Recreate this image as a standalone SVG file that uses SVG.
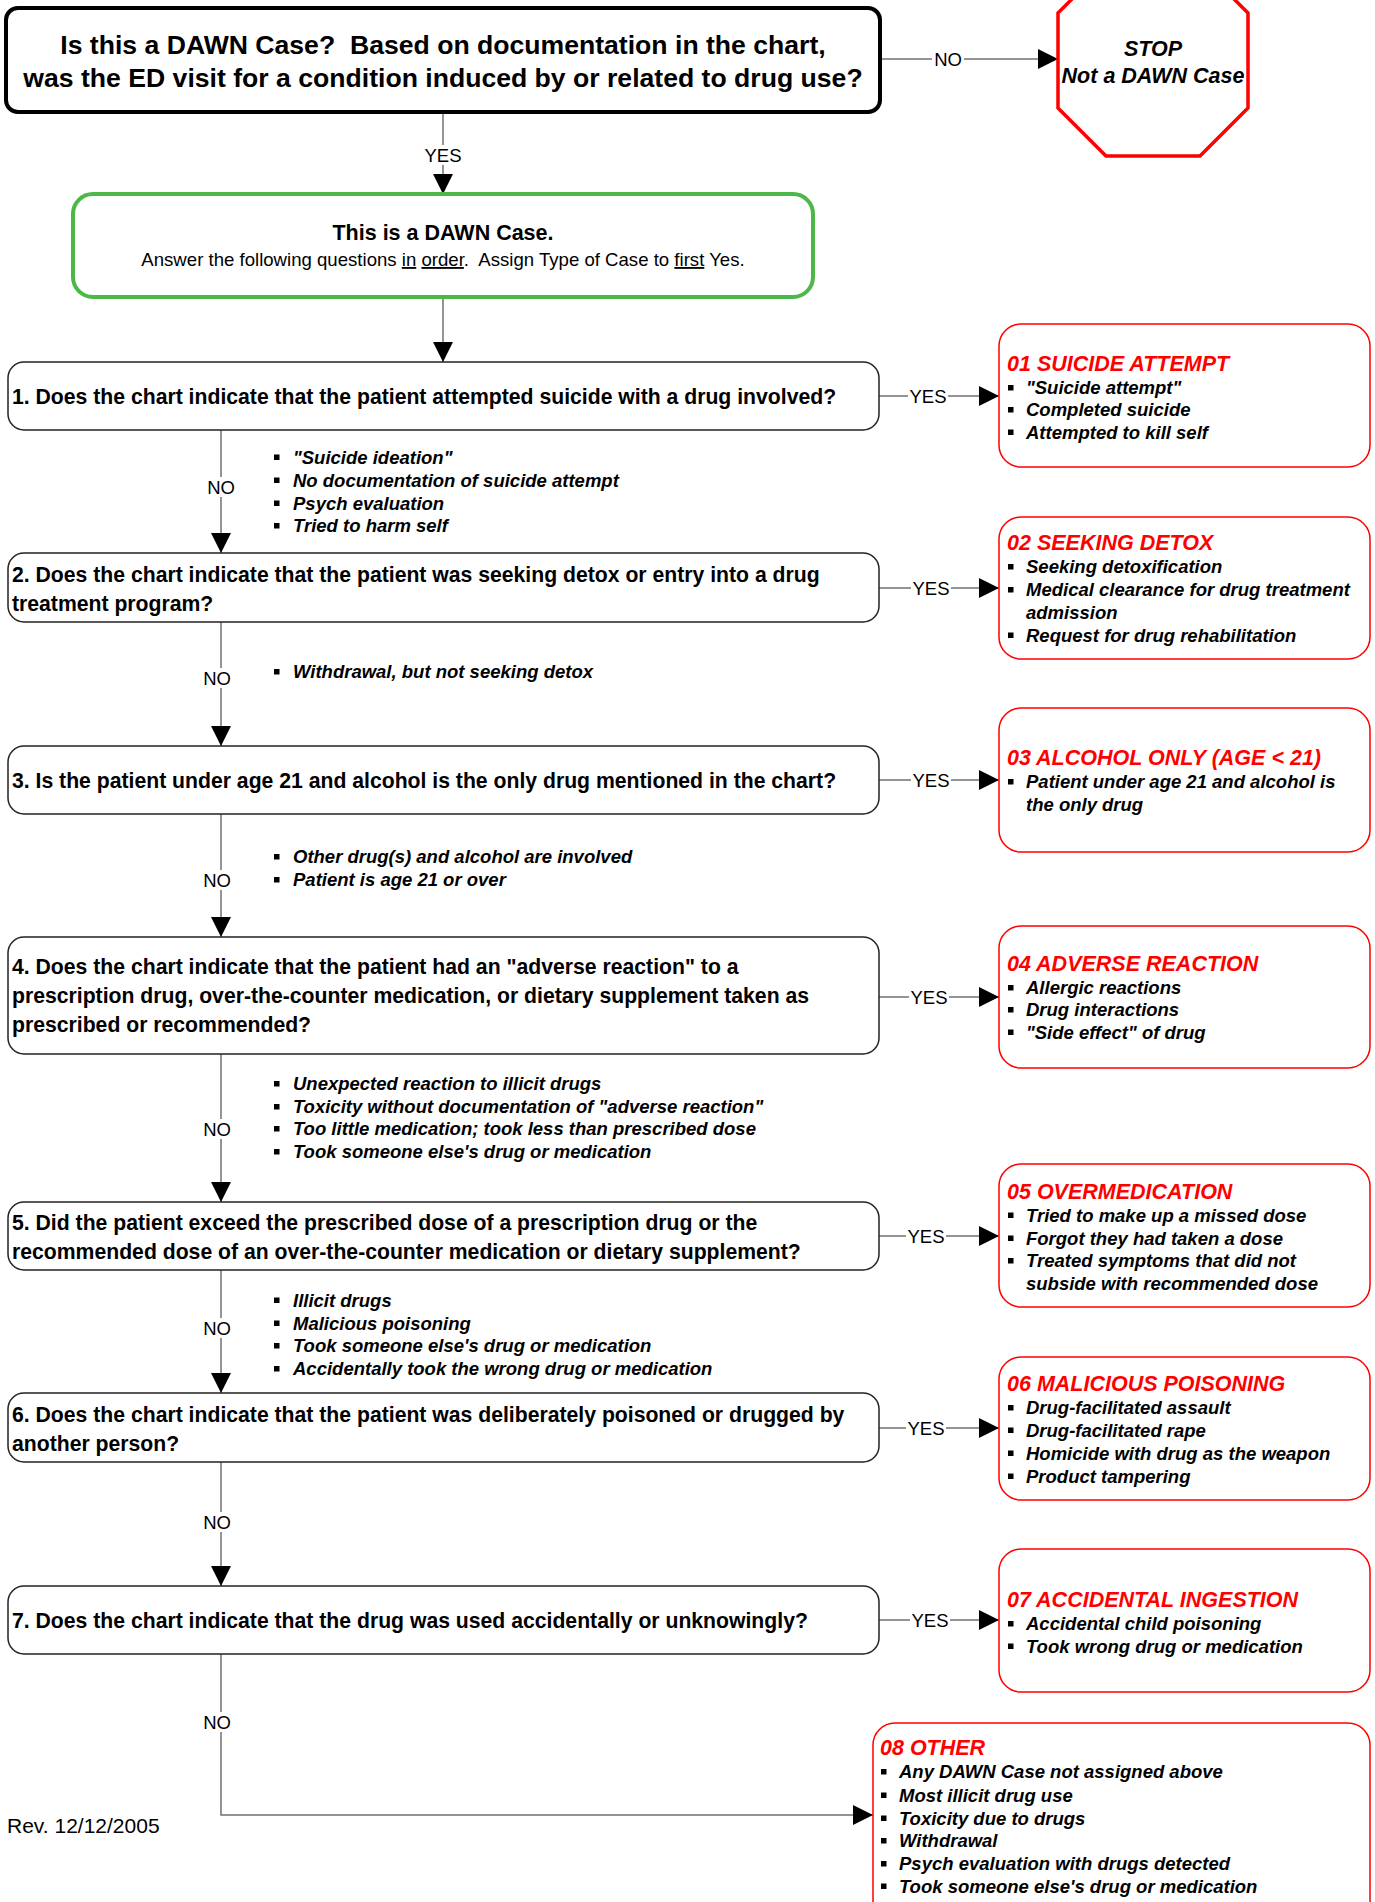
<svg xmlns="http://www.w3.org/2000/svg" width="1375" height="1902" viewBox="0 0 1375 1902">
<style>
text{font-family:"Liberation Sans",Arial,sans-serif;fill:#000;white-space:pre}
.top{font-size:26.6px;font-weight:bold}
.q{font-size:21.2px;font-weight:bold}
.qb{fill:#fff;stroke:#222;stroke-width:1.5}
.rb{fill:#fff;stroke:#f00;stroke-width:1.5}
.tt{font-size:21.5px;font-weight:bold;font-style:italic;fill:#f00}
.it{font-size:18.5px;font-weight:bold;font-style:italic}
.lb{font-size:18.5px;text-anchor:middle}
.bg{fill:#fff}
.c{fill:none;stroke:#707070;stroke-width:1.5}
.b{fill:#000}
.st{font-size:21.5px;font-weight:bold;font-style:italic;text-anchor:middle}
</style>
<defs>
<marker id="ah" viewBox="0 0 20 20" refX="20" refY="10" markerWidth="20" markerHeight="20" markerUnits="userSpaceOnUse" orient="auto"><path d="M0,0L20,10L0,20z" fill="#000"/></marker>
<rect id="bl" width="5.5" height="5.5" class="b"/>
</defs>
<rect width="1375" height="1902" fill="#fff"/>

<g id="connectors">
<path class="c" d="M880,59H1058" marker-end="url(#ah)"/>
<path class="c" d="M443,112V194" marker-end="url(#ah)"/>
<path class="c" d="M443,297V362" marker-end="url(#ah)"/>
<path class="c" d="M221,430V553" marker-end="url(#ah)"/>
<path class="c" d="M221,622V746" marker-end="url(#ah)"/>
<path class="c" d="M221,814V937" marker-end="url(#ah)"/>
<path class="c" d="M221,1054V1202" marker-end="url(#ah)"/>
<path class="c" d="M221,1270V1393" marker-end="url(#ah)"/>
<path class="c" d="M221,1462V1586" marker-end="url(#ah)"/>
<path class="c" d="M221,1654V1815H873" marker-end="url(#ah)"/>
<path class="c" d="M879,396H999" marker-end="url(#ah)"/>
<path class="c" d="M879,588H999" marker-end="url(#ah)"/>
<path class="c" d="M879,780H999" marker-end="url(#ah)"/>
<path class="c" d="M879,997H999" marker-end="url(#ah)"/>
<path class="c" d="M879,1236H999" marker-end="url(#ah)"/>
<path class="c" d="M879,1428H999" marker-end="url(#ah)"/>
<path class="c" d="M879,1620H999" marker-end="url(#ah)"/>
<g id="labels">
<rect class="bg" x="932" y="49" width="32" height="20"/><text class="lb" x="948" y="65.5">NO</text>
<rect class="bg" x="423" y="145" width="40" height="20"/><text class="lb" x="443" y="161.5">YES</text>
<rect class="bg" x="205" y="477" width="32" height="20"/><text class="lb" x="221" y="493.5">NO</text>
<rect class="bg" x="201" y="668" width="32" height="20"/><text class="lb" x="217" y="684.5">NO</text>
<rect class="bg" x="201" y="870" width="32" height="20"/><text class="lb" x="217" y="886.5">NO</text>
<rect class="bg" x="201" y="1119" width="32" height="20"/><text class="lb" x="217" y="1135.5">NO</text>
<rect class="bg" x="201" y="1318" width="32" height="20"/><text class="lb" x="217" y="1334.5">NO</text>
<rect class="bg" x="201" y="1512" width="32" height="20"/><text class="lb" x="217" y="1528.5">NO</text>
<rect class="bg" x="201" y="1712" width="32" height="20"/><text class="lb" x="217" y="1728.5">NO</text>
<rect class="bg" x="908" y="386" width="40" height="20"/><text class="lb" x="928" y="402.5">YES</text>
<rect class="bg" x="911" y="578" width="40" height="20"/><text class="lb" x="931" y="594.5">YES</text>
<rect class="bg" x="911" y="770" width="40" height="20"/><text class="lb" x="931" y="786.5">YES</text>
<rect class="bg" x="909" y="987" width="40" height="20"/><text class="lb" x="929" y="1003.5">YES</text>
<rect class="bg" x="906" y="1226" width="40" height="20"/><text class="lb" x="926" y="1242.5">YES</text>
<rect class="bg" x="906" y="1418" width="40" height="20"/><text class="lb" x="926" y="1434.5">YES</text>
<rect class="bg" x="910" y="1610" width="40" height="20"/><text class="lb" x="930" y="1626.5">YES</text>
</g>
</g>

<g id="start">
<rect x="6" y="8" width="874" height="104" rx="12" fill="#fff" stroke="#000" stroke-width="4"/>
<text class="top" x="443" y="54" text-anchor="middle">Is this a DAWN Case?  Based on documentation in the chart,</text>
<text class="top" x="443" y="87" text-anchor="middle">was the ED visit for a condition induced by or related to drug use?</text>
</g>

<g id="stop">
<polygon points="1106,-35 1200,-35 1248,13 1248,108 1200,156 1106,156 1058,108 1058,13" fill="#fff" stroke="#f00" stroke-width="3.5"/>
<text class="st" x="1153" y="56">STOP</text>
<text class="st" x="1153" y="83">Not a DAWN Case</text>
</g>

<g id="dawn-case">
<rect x="73" y="194" width="740" height="103" rx="20" fill="#fff" stroke="#4cb848" stroke-width="4"/>
<text x="443" y="240" text-anchor="middle" style="font-size:21.5px;font-weight:bold">This is a DAWN Case.</text>
<text x="443" y="266" text-anchor="middle" style="font-size:18.6px">Answer the following questions <tspan text-decoration="underline">in</tspan> <tspan text-decoration="underline">order</tspan>.  Assign Type of Case to <tspan text-decoration="underline">first</tspan> Yes.</text>
</g>

<g id="q1">
<rect class="qb" x="8" y="362" width="871" height="68" rx="16"/>
<text class="q" x="12" y="404">1. Does the chart indicate that the patient attempted suicide with a drug involved?</text>
</g>
<g id="q2">
<rect class="qb" x="8" y="553" width="871" height="69" rx="16"/>
<text class="q" x="12" y="582">2. Does the chart indicate that the patient was seeking detox or entry into a drug</text>
<text class="q" x="12" y="611">treatment program?</text>
</g>
<g id="q3">
<rect class="qb" x="8" y="746" width="871" height="68" rx="16"/>
<text class="q" x="12" y="788">3. Is the patient under age 21 and alcohol is the only drug mentioned in the chart?</text>
</g>
<g id="q4">
<rect class="qb" x="8" y="937" width="871" height="117" rx="16"/>
<text class="q" x="12" y="974">4. Does the chart indicate that the patient had an "adverse reaction" to a</text>
<text class="q" x="12" y="1003">prescription drug, over-the-counter medication, or dietary supplement taken as</text>
<text class="q" x="12" y="1032">prescribed or recommended?</text>
</g>
<g id="q5">
<rect class="qb" x="8" y="1202" width="871" height="68" rx="16"/>
<text class="q" x="12" y="1230">5. Did the patient exceed the prescribed dose of a prescription drug or the</text>
<text class="q" x="12" y="1259">recommended dose of an over-the-counter medication or dietary supplement?</text>
</g>
<g id="q6">
<rect class="qb" x="8" y="1393" width="871" height="69" rx="16"/>
<text class="q" x="12" y="1422">6. Does the chart indicate that the patient was deliberately poisoned or drugged by</text>
<text class="q" x="12" y="1451">another person?</text>
</g>
<g id="q7">
<rect class="qb" x="8" y="1586" width="871" height="68" rx="16"/>
<text class="q" x="12" y="1628">7. Does the chart indicate that the drug was used accidentally or unknowingly?</text>
</g>

<g id="no-notes">
<use href="#bl" x="274" y="454.5"/><text class="it" x="293" y="463.5">"Suicide ideation"</text>
<use href="#bl" x="274" y="477.5"/><text class="it" x="293" y="486.5">No documentation of suicide attempt</text>
<use href="#bl" x="274" y="500.5"/><text class="it" x="293" y="509.5">Psych evaluation</text>
<use href="#bl" x="274" y="523"/><text class="it" x="293" y="532">Tried to harm self</text>

<use href="#bl" x="274" y="669"/><text class="it" x="293" y="678">Withdrawal, but not seeking detox</text>

<use href="#bl" x="274" y="854"/><text class="it" x="293" y="863">Other drug(s) and alcohol are involved</text>
<use href="#bl" x="274" y="877"/><text class="it" x="293" y="886">Patient is age 21 or over</text>

<use href="#bl" x="274" y="1081"/><text class="it" x="293" y="1090">Unexpected reaction to illicit drugs</text>
<use href="#bl" x="274" y="1104"/><text class="it" x="293" y="1113">Toxicity without documentation of "adverse reaction"</text>
<use href="#bl" x="274" y="1126"/><text class="it" x="293" y="1135">Too little medication; took less than prescribed dose</text>
<use href="#bl" x="274" y="1149"/><text class="it" x="293" y="1158">Took someone else's drug or medication</text>

<use href="#bl" x="274" y="1297.5"/><text class="it" x="293" y="1306.5">Illicit drugs</text>
<use href="#bl" x="274" y="1320.5"/><text class="it" x="293" y="1329.5">Malicious poisoning</text>
<use href="#bl" x="274" y="1343"/><text class="it" x="293" y="1352">Took someone else's drug or medication</text>
<use href="#bl" x="274" y="1366"/><text class="it" x="293" y="1375">Accidentally took the wrong drug or medication</text>
</g>

<g id="r01">
<rect class="rb" x="999" y="324" width="371" height="143" rx="22"/>
<text class="tt" x="1007" y="371">01 SUICIDE ATTEMPT</text>
<use href="#bl" x="1008" y="385"/><text class="it" x="1026" y="394">"Suicide attempt"</text>
<use href="#bl" x="1008" y="407"/><text class="it" x="1026" y="416">Completed suicide</text>
<use href="#bl" x="1008" y="429.5"/><text class="it" x="1026" y="438.5">Attempted to kill self</text>
</g>
<g id="r02">
<rect class="rb" x="999" y="517" width="371" height="142" rx="22"/>
<text class="tt" x="1007" y="550">02 SEEKING DETOX</text>
<use href="#bl" x="1008" y="564"/><text class="it" x="1026" y="573">Seeking detoxification</text>
<use href="#bl" x="1008" y="587"/><text class="it" x="1026" y="596">Medical clearance for drug treatment</text>
<text class="it" x="1026" y="619">admission</text>
<use href="#bl" x="1008" y="632.5"/><text class="it" x="1026" y="641.5">Request for drug rehabilitation</text>
</g>
<g id="r03">
<rect class="rb" x="999" y="708" width="371" height="144" rx="22"/>
<text class="tt" x="1007" y="765">03 ALCOHOL ONLY (AGE &lt; 21)</text>
<use href="#bl" x="1008" y="779"/><text class="it" x="1026" y="788">Patient under age 21 and alcohol is</text>
<text class="it" x="1026" y="811">the only drug</text>
</g>
<g id="r04">
<rect class="rb" x="999" y="926" width="371" height="142" rx="22"/>
<text class="tt" x="1007" y="971">04 ADVERSE REACTION</text>
<use href="#bl" x="1008" y="985"/><text class="it" x="1026" y="994">Allergic reactions</text>
<use href="#bl" x="1008" y="1007"/><text class="it" x="1026" y="1016">Drug interactions</text>
<use href="#bl" x="1008" y="1029.5"/><text class="it" x="1026" y="1038.5">"Side effect" of drug</text>
</g>
<g id="r05">
<rect class="rb" x="999" y="1164" width="371" height="143" rx="22"/>
<text class="tt" x="1007" y="1198.5">05 OVERMEDICATION</text>
<use href="#bl" x="1008" y="1212.5"/><text class="it" x="1026" y="1221.5">Tried to make up a missed dose</text>
<use href="#bl" x="1008" y="1235.5"/><text class="it" x="1026" y="1244.5">Forgot they had taken a dose</text>
<use href="#bl" x="1008" y="1258"/><text class="it" x="1026" y="1267">Treated symptoms that did not</text>
<text class="it" x="1026" y="1290">subside with recommended dose</text>
</g>
<g id="r06">
<rect class="rb" x="999" y="1357" width="371" height="143" rx="22"/>
<text class="tt" x="1007" y="1391">06 MALICIOUS POISONING</text>
<use href="#bl" x="1008" y="1405"/><text class="it" x="1026" y="1414">Drug-facilitated assault</text>
<use href="#bl" x="1008" y="1427.5"/><text class="it" x="1026" y="1436.5">Drug-facilitated rape</text>
<use href="#bl" x="1008" y="1450.5"/><text class="it" x="1026" y="1459.5">Homicide with drug as the weapon</text>
<use href="#bl" x="1008" y="1473.5"/><text class="it" x="1026" y="1482.5">Product tampering</text>
</g>
<g id="r07">
<rect class="rb" x="999" y="1549" width="371" height="143" rx="22"/>
<text class="tt" x="1007" y="1607">07 ACCIDENTAL INGESTION</text>
<use href="#bl" x="1008" y="1621"/><text class="it" x="1026" y="1630">Accidental child poisoning</text>
<use href="#bl" x="1008" y="1643.5"/><text class="it" x="1026" y="1652.5">Took wrong drug or medication</text>
</g>
<g id="r08">
<rect class="rb" x="873" y="1723" width="497" height="210" rx="22"/>
<text class="tt" x="880" y="1755">08 OTHER</text>
<use href="#bl" x="881" y="1769"/><text class="it" x="899" y="1778">Any DAWN Case not assigned above</text>
<use href="#bl" x="881" y="1792.5"/><text class="it" x="899" y="1801.5">Most illicit drug use</text>
<use href="#bl" x="881" y="1815.5"/><text class="it" x="899" y="1824.5">Toxicity due to drugs</text>
<use href="#bl" x="881" y="1838"/><text class="it" x="899" y="1847">Withdrawal</text>
<use href="#bl" x="881" y="1861"/><text class="it" x="899" y="1870">Psych evaluation with drugs detected</text>
<use href="#bl" x="881" y="1883.5"/><text class="it" x="899" y="1892.5">Took someone else's drug or medication</text>
</g>

<text id="rev" x="7" y="1833" style="font-size:21px">Rev. 12/12/2005</text>
</svg>
